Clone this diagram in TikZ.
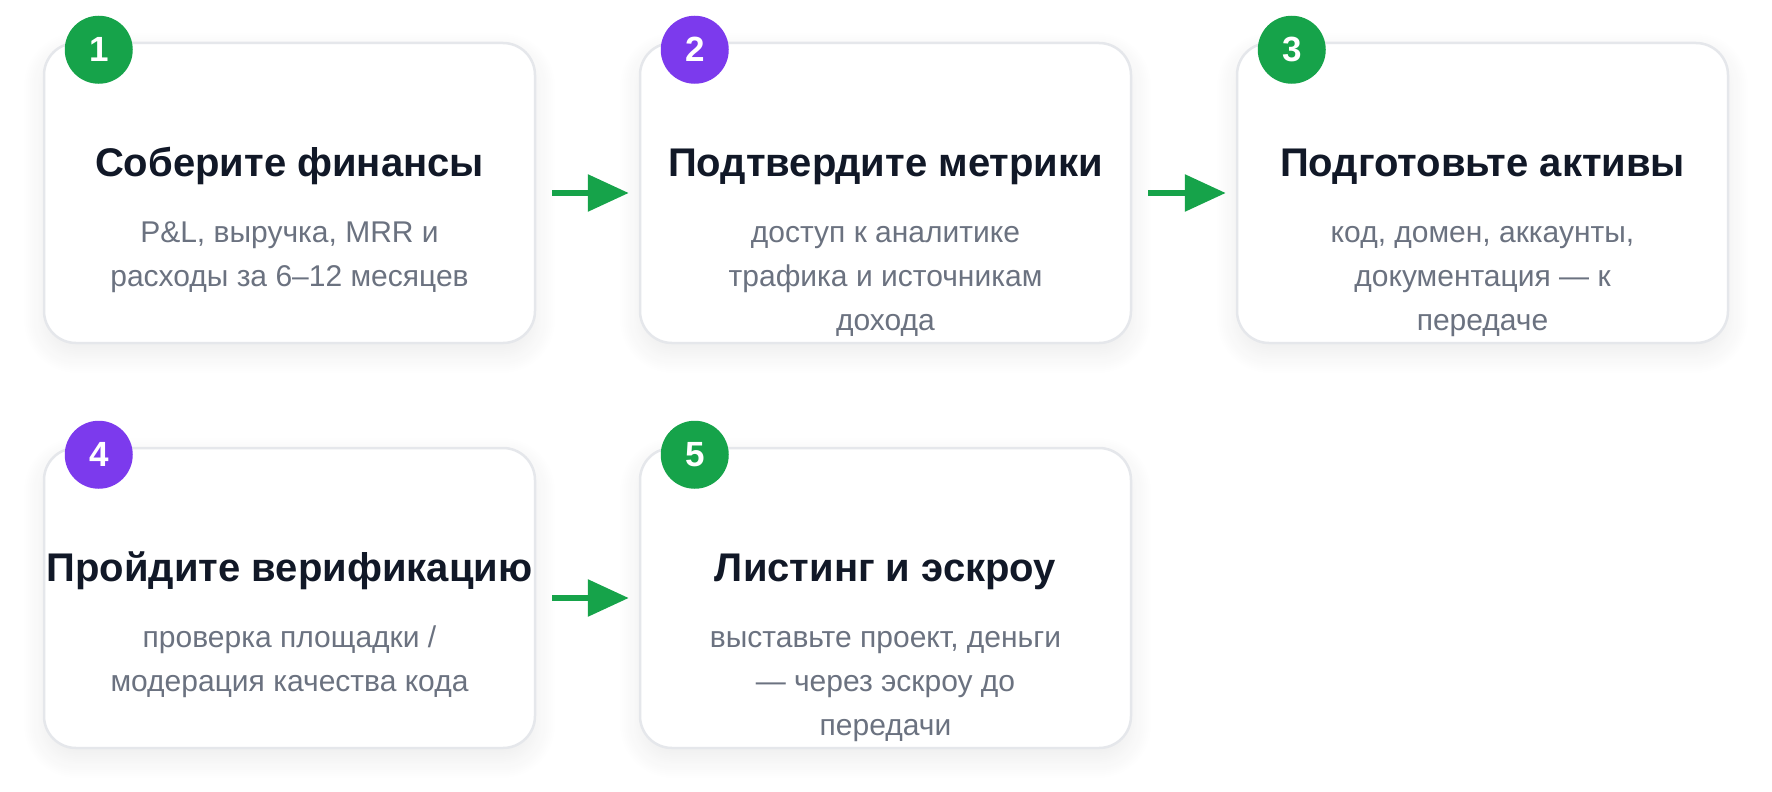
\documentclass[tikz,border=0pt]{standalone}
\usepackage{fontspec}
\setmainfont{Liberation Sans}
\usepackage{tikz}
\usetikzlibrary{positioning}
\usetikzlibrary{arrows.meta,shadows.blur}
\definecolor{stepgreen}{HTML}{16A34A}
\definecolor{steppurple}{HTML}{7C3AED}
\definecolor{cardline}{HTML}{E5E7EB}
\definecolor{titleink}{HTML}{111827}
\definecolor{textink}{HTML}{6B7280}
\tikzstyle{card}=[rectangle, rounded corners=32pt, draw=cardline, line width=2.5pt, fill=white, minimum width=491pt, minimum height=300pt, inner sep=0pt, blur shadow={shadow xshift=0pt, shadow yshift=-10pt, shadow blur radius=22pt, shadow opacity=8, shadow blur steps=12}]
\tikzstyle{badge}=[circle, minimum size=68pt, inner sep=0pt, text=white, font=\fontsize{35pt}{35pt}\selectfont\bfseries]
\tikzstyle{title}=[anchor=base, text=titleink, font=\fontsize{40pt}{46pt}\selectfont\bfseries, inner sep=0pt]
\tikzstyle{subtitle}=[anchor=base, text=textink, align=center, font=\fontsize{30pt}{44pt}\selectfont, inner sep=0pt]
\tikzstyle{flow}=[draw=stepgreen, line width=6pt, -{Triangle[length=41pt,width=36pt]}, shorten <=16pt, shorten >=10pt]

\begin{document}
\begin{tikzpicture}[x=1pt, y=-1pt]
    \useasboundingbox (0,0) rectangle (1772,792);

    % First we draw the cards
    \foreach \pos/\name in {{(289.5,193)/c1}, {(885.5,193)/c2}, {(1482.5,193)/c3}, {(289.5,598)/c4}, {(885.5,598)/c5}}
        \node[card] (\name) at \pos {};

    % Number badges on the top left corners
    \foreach \card/\num/\col in {c1/1/stepgreen, c2/2/steppurple, c3/3/stepgreen, c4/4/steppurple, c5/5/stepgreen}
        \node[badge, fill=\col] (b\num) at ([xshift=56pt, yshift=-8pt]\card.north west) {\num};

    % Connect the cards
    \foreach \source/\dest in {c1/c2, c2/c3, c4/c5}
        \path[flow] (\source) -- (\dest);

    % titles
    \node[title] (t1) at ([yshift=-135pt]c1.north) {Соберите финансы};
    \node[title] (t2) at ([yshift=-135pt]c2.north) {Подтвердите метрики};
    \node[title] (t3) at ([yshift=-135pt]c3.north) {Подготовьте активы};
    \node[title] (t4) at ([yshift=-135pt]c4.north) {Пройдите верификацию};
    \node[title] (t5) at ([yshift=-135pt]c5.north) {Листинг и эскроу};

    % descriptions (base sits on the last line)
    \node[subtitle] (s1) at ([yshift=-245pt]c1.north) {P\&L, выручка, MRR и\\расходы за 6–12 месяцев};
    \node[subtitle] (s2) at ([yshift=-289pt]c2.north) {доступ к аналитике\\трафика и источникам\\дохода};
    \node[subtitle] (s3) at ([yshift=-289pt]c3.north) {код, домен, аккаунты,\\документация — к\\передаче};
    \node[subtitle] (s4) at ([yshift=-245pt]c4.north) {проверка площадки /\\модерация качества кода};
    \node[subtitle] (s5) at ([yshift=-289pt]c5.north) {выставьте проект, деньги\\— через эскроу до\\передачи};

\end{tikzpicture}
\end{document}
